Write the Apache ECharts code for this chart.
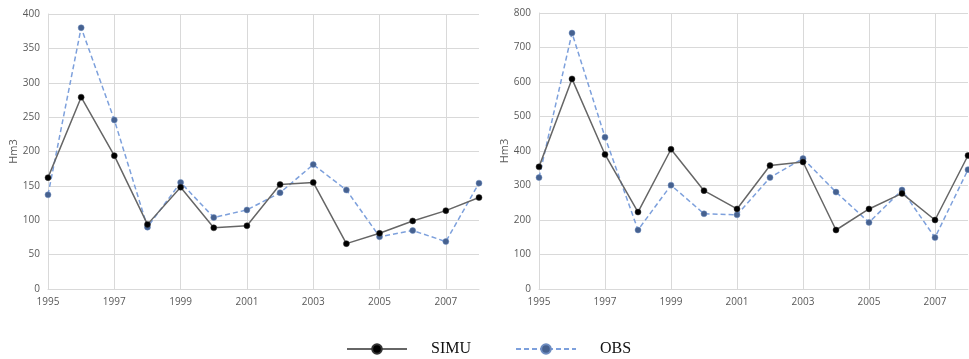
<!DOCTYPE html>
<html>
<head>
<meta charset="utf-8">
<script src="https://cdn.jsdelivr.net/npm/echarts@6/dist/echarts.min.js"></script>
<style>html,body{margin:0;padding:0;background:#fff}#c{width:969px;height:359px}</style>
</head>
<body>
<div id="c"></div>
<script>
const years = ['1995','1996','1997','1998','1999','2000','2001','2002','2003','2004','2005','2006','2007','2008'];
const simuLeft = [162, 279, 194, 94, 148, 89, 92, 152, 155, 66, 81, 99, 114, 133];
const obsLeft  = [137, 380, 246, 90, 155, 104, 115, 140, 181, 144, 76, 85, 69, 154];
const simuRight = [354, 609, 390, 223, 405, 285, 232, 358, 368, 171, 232, 277, 200, 387];
const obsRight  = [323, 742, 440, 171, 301, 218, 215, 323, 378, 281, 193, 287, 149, 346];
const yName = 'Hm3';

const chart = echarts.init(document.getElementById('c'));
const labelFont = {color:'#595959', fontFamily:'Open Sans', fontSize:10};
function xAx(gi){
  return {type:'category', gridIndex:gi, data:years, boundaryGap:false,
    axisLine:{lineStyle:{color:'#d9d9d9', width:1}}, axisTick:{show:false},
    axisLabel:Object.assign({interval:1, margin:8}, labelFont),
    splitLine:{show:true, interval:1, lineStyle:{color:'#d9d9d9', width:1}}};
}
function yAx(gi, max, step){
  return {type:'value', gridIndex:gi, min:0, max:max, interval:step,
    name:yName, nameLocation:'middle', nameGap:27, nameRotate:90,
    nameTextStyle:{color:'#595959', fontFamily:'Open Sans', fontSize:11},
    axisLine:{show:true, lineStyle:{color:'#d9d9d9'}}, axisTick:{show:false},
    axisLabel:Object.assign({margin:8}, labelFont),
    splitLine:{show:true, lineStyle:{color:'#d9d9d9', width:1}}};
}
function simu(gi, data){
  return {name:'SIMU', type:'line', xAxisIndex:gi, yAxisIndex:gi, data:data,
    symbol:'circle', symbolSize:6, z:3,
    lineStyle:{color:'#666666', width:1.5},
    itemStyle:{color:'#000000', borderColor:'#333', borderWidth:0.5}};
}
function obs(gi, data){
  return {name:'OBS', type:'line', xAxisIndex:gi, yAxisIndex:gi, data:data,
    symbol:'circle', symbolSize:6, z:2,
    lineStyle:{color:'#7da0dc', width:1.5, type:[5,3]},
    itemStyle:{color:'#46618f', borderColor:'#6d8cc0', borderWidth:0.5}};
}
chart.setOption({
  animation:false,
  backgroundColor:'#ffffff',
  grid:[
    {left:48, right:490, top:14, bottom:70, containLabel:false, outerBoundsMode:'none'},
    {left:539, right:1, top:13, bottom:70, containLabel:false, outerBoundsMode:'none'}
  ],
  xAxis:[xAx(0), xAx(1)],
  yAxis:[yAx(0,400,50), yAx(1,800,100)],
  legend:{
    top:336, left:341, itemWidth:60, itemHeight:12, itemGap:44,
    data:['SIMU','OBS'],
    textStyle:{fontFamily:'Liberation Serif', fontSize:16, color:'#111', padding:[0,0,0,19]}
  },
  series:[simu(0, simuLeft), obs(0, obsLeft), simu(1, simuRight), obs(1, obsRight)]
});
</script>
</body>
</html>
